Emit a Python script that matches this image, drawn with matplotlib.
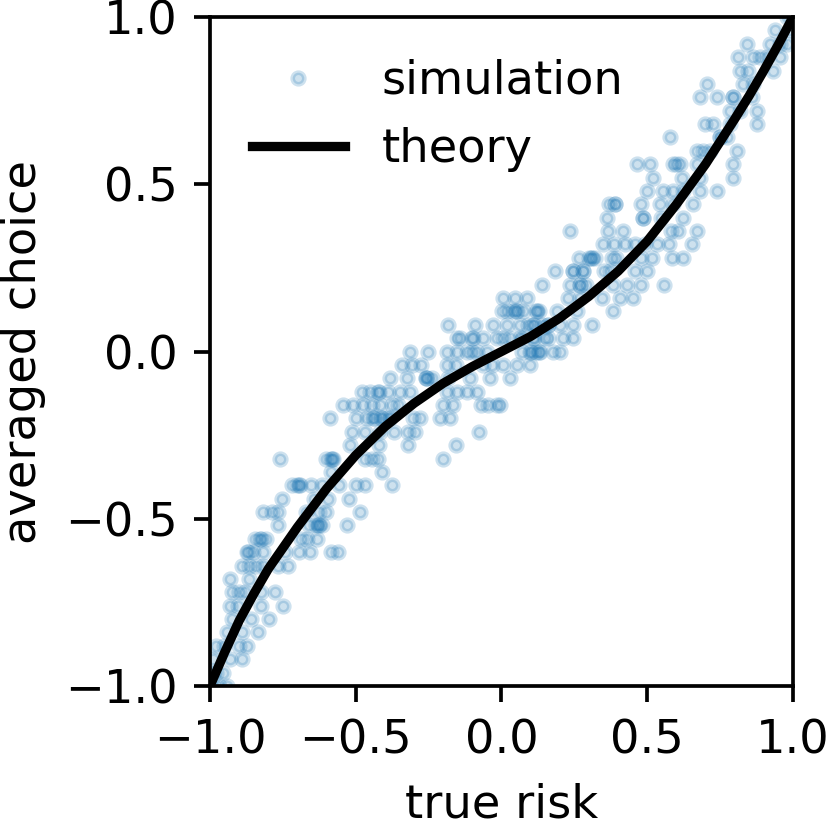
"""
Averaged choice vs. true risk: simulated agents (dots) against the theory curve.
Values read off the reference figure; simulation choices sit on a 0.04 grid.
"""

import numpy as np
import matplotlib
matplotlib.use("Agg")
import matplotlib.pyplot as plt

# simulation: one y level (averaged choice) per row, with the true-risk x values seen there
# (repeated x values = overlapping runs, which show up darker)
sim_levels = [
    -1.00, -0.96, -0.92, -0.88, -0.84, -0.80, -0.76, -0.72, -0.68, -0.64,
    -0.60, -0.56, -0.52, -0.48, -0.44, -0.40, -0.36, -0.32, -0.28, -0.24,
    -0.20, -0.16, -0.12, -0.08, -0.04, 0.00, 0.04, 0.08, 0.12, 0.16,
    0.20, 0.24, 0.28, 0.32, 0.36, 0.40, 0.44, 0.48, 0.52, 0.56,
    0.60, 0.64, 0.68, 0.72, 0.76, 0.80, 0.84, 0.88, 0.92, 0.96, 1.00,
]
sim_x_by_level = [
    [-0.99, -0.97, -0.942],
    [-0.997, -0.98, -0.955],
    [-0.99, -0.931, -0.89],
    [-0.979, -0.952, -0.90, -0.873],
    [-0.942, -0.89, -0.835],
    [-0.925, -0.859, -0.798],
    [-0.931, -0.904, -0.825, -0.75],
    [-0.925, -0.90, -0.88, -0.825, -0.777],
    [-0.931, -0.866],
    [-0.89, -0.866, -0.842, -0.818, -0.767, -0.732],
    [-0.873, -0.87, -0.852, -0.818, -0.743, -0.695, -0.657, -0.585, -0.561],
    [-0.846, -0.83, -0.825, -0.808, -0.688, -0.667, -0.633],
    [-0.767, -0.660, -0.636, -0.63, -0.625, -0.616, -0.53],
    [-0.818, -0.787, -0.767, -0.671, -0.626, -0.602, -0.485],
    [-0.753, -0.643, -0.595, -0.523],
    [-0.719, -0.70, -0.695, -0.69, -0.654, -0.616, -0.557, -0.499, -0.468, -0.376],
    [-0.585, -0.41],
    [-0.760, -0.602, -0.585, -0.58, -0.578, -0.468, -0.444, -0.424, -0.201],
    [-0.52, -0.42, -0.321, -0.156],
    [-0.513, -0.468, -0.417, -0.369, -0.321, -0.297, -0.077],
    [-0.588, -0.499, -0.461, -0.44, -0.437, -0.413, -0.41, -0.39, -0.383, -0.304,
     -0.28, -0.211, -0.177],
    [-0.544, -0.509, -0.475, -0.444, -0.417, -0.376, -0.355, -0.201, -0.166,
     -0.07, -0.046, -0.015, -0.005],
    [-0.479, -0.451, -0.424, -0.42, -0.389, -0.348, -0.314, -0.187, -0.153, -0.118,
     -0.084],
    [-0.383, -0.324, -0.26, -0.259, -0.255, -0.238, -0.184, -0.108, -0.039, 0.029],
    [-0.341, -0.307, -0.276, -0.187, -0.156, -0.063, -0.033, 0.005, 0.053, 0.098],
    [-0.314, -0.252, -0.187, -0.153, -0.118, -0.10, -0.084, -0.05, 0.07, 0.098,
     0.10, 0.12, 0.13, 0.132, 0.177, 0.201],
    [-0.153, -0.142, -0.10, -0.098, -0.063, -0.015, 0.005, 0.029, 0.063, 0.074,
     0.108, 0.11, 0.15, 0.16, 0.211, 0.245],
    [-0.184, -0.091, -0.029, 0.019, 0.063, 0.09, 0.108, 0.11, 0.14, 0.16, 0.16,
     0.201, 0.245, 0.31],
    [0.002, 0.019, 0.04, 0.05, 0.053, 0.074, 0.12, 0.122, 0.13, 0.19, 0.259, 0.383],
    [0.005, 0.046, 0.087, 0.228, 0.269, 0.345, 0.407, 0.451],
    [0.139, 0.235, 0.269, 0.27, 0.29, 0.383, 0.431, 0.479, 0.557],
    [0.184, 0.245, 0.245, 0.28, 0.28, 0.352, 0.372, 0.458, 0.499],
    [0.266, 0.30, 0.307, 0.31, 0.321, 0.38, 0.393, 0.479, 0.516, 0.585, 0.623],
    [0.348, 0.386, 0.424, 0.458, 0.492, 0.533, 0.575, 0.654],
    [0.235, 0.365, 0.417, 0.581, 0.605, 0.671],
    [0.362, 0.485, 0.485, 0.547, 0.623],
    [0.369, 0.389, 0.39, 0.479, 0.544, 0.588, 0.657],
    [0.499, 0.554, 0.588, 0.623, 0.681, 0.739],
    [0.52, 0.619, 0.681, 0.794],
    [0.465, 0.509, 0.588, 0.60, 0.612, 0.671, 0.794],
    [0.671, 0.691, 0.715, 0.808],
    [0.578, 0.75, 0.75, 0.774],
    [0.698, 0.726, 0.784, 0.876],
    [0.784, 0.818, 0.876],
    [0.681, 0.739, 0.794, 0.795, 0.859],
    [0.705, 0.828, 0.863],
    [0.818, 0.846, 0.931],
    [0.811, 0.863, 0.887, 0.911, 0.955],
    [0.842, 0.921, 0.955, 0.979],
    [0.938, 0.99],
    [0.979, 0.997],
]

# theory curve, points
theory_x = [-1.0, -0.95, -0.9, -0.85, -0.8, -0.7, -0.6, -0.5, -0.4, -0.3, -0.2, -0.1,
            0.0, 0.1, 0.2, 0.3, 0.4, 0.5, 0.6, 0.7, 0.8, 0.85, 0.9, 0.95, 1.0]
theory_y = [-1.0, -0.90, -0.805, -0.725, -0.65, -0.525, -0.41, -0.31, -0.225, -0.155,
            -0.095, -0.045, 0.0, 0.045, 0.10, 0.165, 0.24, 0.33, 0.44, 0.56, 0.695,
            0.765, 0.84, 0.918, 1.0]

ticks = [-1.0, -0.5, 0.0, 0.5, 1.0]


def main():
    sim_x = np.concatenate([np.asarray(xs) for xs in sim_x_by_level])
    sim_y = np.concatenate([np.full(len(xs), lv) for lv, xs in zip(sim_levels, sim_x_by_level)])

    dpi = 334
    fig = plt.figure(figsize=(830 / dpi, 830 / dpi), dpi=dpi)
    ax = fig.add_axes([0.253, 0.1735, 0.7024, 0.806])

    ax.plot(sim_x, sim_y, "o", color="C0", alpha=0.22, ms=2.5, label="simulation")
    ax.plot(theory_x, theory_y, color="k", lw=2, solid_joinstyle="round",
            label="theory")

    ax.set_xlim(-1, 1)
    ax.set_ylim(-1, 1)
    ax.set_xticks(ticks)
    ax.set_yticks(ticks)
    ax.set_xlabel("true risk")
    ax.set_ylabel("averaged choice")
    ax.legend(frameon=False, loc="upper left")

    fig.savefig("out.png", dpi=dpi)
    plt.close(fig)


if __name__ == "__main__":
    main()
